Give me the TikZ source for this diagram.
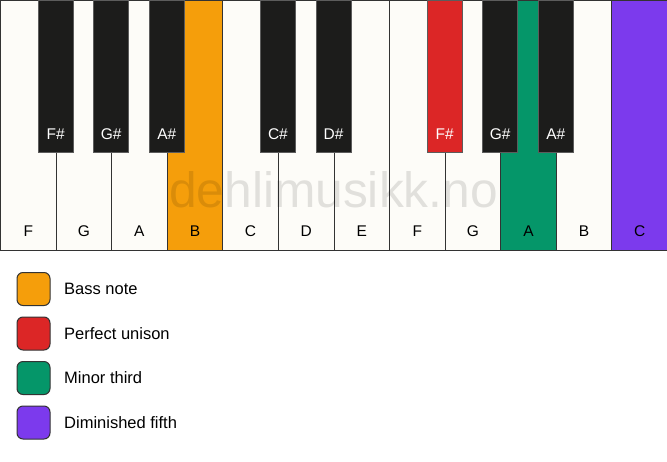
\documentclass[tikz,border=0pt]{standalone}
\usepackage{fontspec}
\setmainfont{Liberation Sans}
\usetikzlibrary{calc}
\definecolor{keywhite}{HTML}{FDFCF8}
\definecolor{keyblack}{HTML}{1C1C1B}
\definecolor{keyline}{HTML}{333333}
\definecolor{cbass}{HTML}{F59E0B}
\definecolor{cunison}{HTML}{DC2626}
\definecolor{cthird}{HTML}{059669}
\definecolor{cfifth}{HTML}{7C3AED}
\tikzset{
  whitekey/.style={draw=keyline, line width=0.9pt, fill=keywhite, rectangle, inner sep=0pt, minimum width=55.583pt, minimum height=250pt, anchor=north west},
  blackkey/.style={draw=keyline!80, line width=0.8pt, fill=keyblack, rectangle, inner sep=0pt, minimum width=35pt, minimum height=152pt, anchor=north},
  wlabel/.style={font=\fontsize{15.5}{16}\selectfont, text=black, anchor=base, inner sep=0pt},
  blabel/.style={font=\fontsize{15.5}{16}\selectfont, text=white, anchor=base, inner sep=0pt},
  legbox/.style={draw=keyline, line width=1pt, rounded corners=6pt, minimum width=33pt, minimum height=33pt, inner sep=0pt},
  legtext/.style={font=\fontsize{16.5}{18}\selectfont, anchor=west, inner sep=0pt},
}
\begin{document}
\begin{tikzpicture}[x=1pt,y=-1pt]
\useasboundingbox (0,0) rectangle (667,461);
\fill[white] (0,0) rectangle (667,461);
% white keys
\foreach \i/\n/\c in {0/F/keywhite,1/G/keywhite,2/A/keywhite,3/B/cbass,4/C/keywhite,5/D/keywhite,6/E/keywhite,7/F/keywhite,8/G/keywhite,9/A/cthird,10/B/keywhite,11/C/cfifth}{
  \node[whitekey, fill=\c] (w\i) at (\i*55.583,0) {};
  \node[wlabel] (wl\i) at ($(w\i.north)+(0,236)$) {\n};
}
% watermark
\node[font=\fontsize{49.7}{52}\selectfont, text=black, text opacity=0.11, anchor=base, inner sep=0pt] (wm) at (333.5,207) {dehlimusikk.no};
% black keys
\foreach \i/\n/\c in {1/F\#/keyblack,2/G\#/keyblack,3/A\#/keyblack,5/C\#/keyblack,6/D\#/keyblack,8/F\#/cunison,9/G\#/keyblack,10/A\#/keyblack}{
  \node[blackkey, fill=\c] (b\i) at (\i*55.583,0) {};
  \node[blabel] (bl\i) at ($(b\i.north)+(0,139)$) {\n};
}
% legend
\node[legbox, fill=cbass] (lg1) at (33.5,289) {};
\node[legtext] (lt1) at (64,289) {Bass note};
\node[legbox, fill=cunison] (lg2) at (33.5,333.5) {};
\node[legtext] (lt2) at (64,333.5) {Perfect unison};
\node[legbox, fill=cthird] (lg3) at (33.5,378) {};
\node[legtext] (lt3) at (64,378) {Minor third};
\node[legbox, fill=cfifth] (lg4) at (33.5,422.5) {};
\node[legtext] (lt4) at (64,422.5) {Diminished fifth};
\end{tikzpicture}
\end{document}
